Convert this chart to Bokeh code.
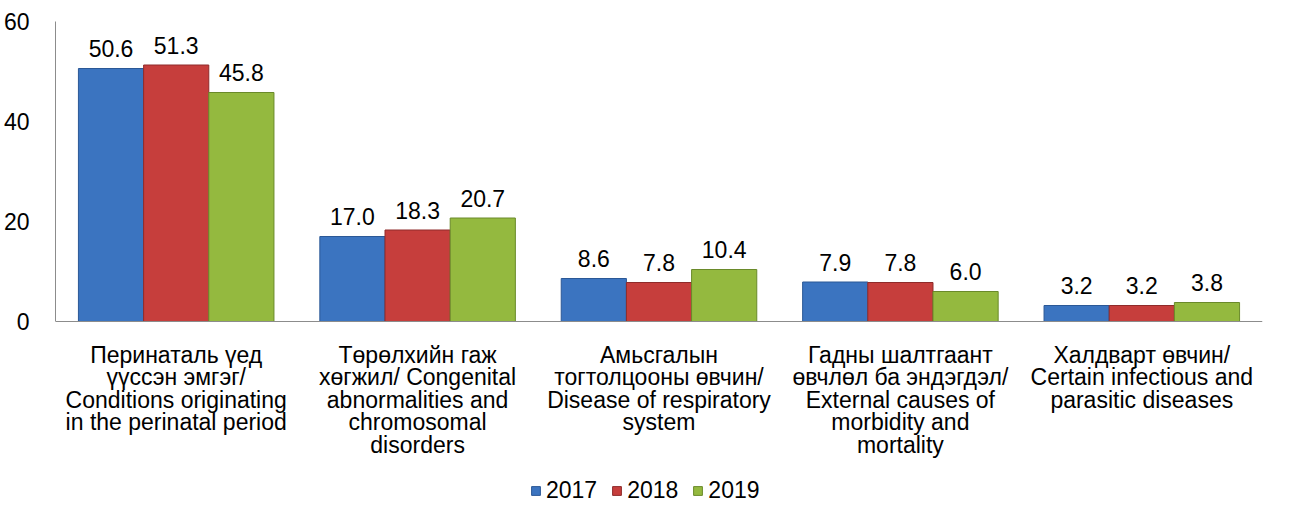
from bokeh.plotting import figure
from bokeh.models import ColumnDataSource, FactorRange, Legend, LegendItem, FixedTicker, Span
from bokeh.transform import dodge
from bokeh.core.properties import value
from bokeh.embed import file_html
from bokeh.resources import INLINE

categories = [
    "Перинаталь үед\nүүссэн эмгэг/\nConditions originating\nin the perinatal period",
    "Төрөлхийн гаж\nхөгжил/ Congenital\nabnormalities and\nchromosomal\ndisorders",
    "Амьсгалын\nтогтолцооны өвчин/\nDisease of respiratory\nsystem",
    "Гадны шалтгаант\nөвчлөл ба эндэгдэл/\nExternal causes of\nmorbidity and\nmortality",
    "Халдварт өвчин/\nCertain infectious and\nparasitic diseases",
]
years = ["2017", "2018", "2019"]
v2017 = [50.6, 17.0, 8.6, 7.9, 3.2]
v2018 = [51.3, 18.3, 7.8, 7.8, 3.2]
v2019 = [45.8, 20.7, 10.4, 6.0, 3.8]
y_ticks = [0, 20, 40, 60]

fills = ["#3B74C0", "#C63E3C", "#94B93F"]
lines = ["#2B5896", "#8F2B2A", "#6A8A2A"]
FONT = "Liberation Sans"
FS = "23px"

src = ColumnDataSource(dict(
    cat=categories,
    v2017=v2017, v2018=v2018, v2019=v2019,
    l2017=[f"{v:.1f}" for v in v2017],
    l2018=[f"{v:.1f}" for v in v2018],
    l2019=[f"{v:.1f}" for v in v2019],
))

p = figure(frame_width=1207, frame_height=495, x_range=FactorRange(*categories, range_padding=0),
           y_range=(-39, 60), output_backend="svg", toolbar_location=None,
           min_border_left=55, min_border_right=10, min_border_top=21, min_border_bottom=0)
p.outline_line_color = None
p.xgrid.grid_line_color = None
p.ygrid.grid_line_color = None
p.xaxis.visible = False

baseline = Span(location=0, dimension="width", line_color="#8C8C8C", line_width=1)
p.add_layout(baseline)

bw = 0.27
offs = [-bw, 0.0, bw]
items = []
for yr, off, fc, lc in zip(years, offs, fills, lines):
    r = p.vbar(x=dodge("cat", off, range=p.x_range), top="v" + yr, width=bw, source=src,
               fill_color=fc, line_color=lc, line_width=1)
    p.text(x=dodge("cat", off, range=p.x_range), y="v" + yr, text="l" + yr, source=src,
           text_align="center", text_baseline="alphabetic", y_offset=-20,
           text_font=value(FONT), text_font_size=FS, text_color="#000000")
    items.append(LegendItem(label=yr, renderers=[r]))

# category labels under the baseline
p.text(x="cat", y=0, text="cat", source=src, text_align="center", text_baseline="top",
       y_offset=20, text_line_height=0.87,
       text_font=value(FONT), text_font_size=FS, text_color="#000000")

p.yaxis.ticker = FixedTicker(ticks=y_ticks)
p.yaxis.bounds = (0, 60)
p.yaxis.major_tick_line_color = None
p.yaxis.minor_tick_line_color = None
p.yaxis.axis_line_color = "#8C8C8C"
p.yaxis.major_label_text_font = FONT
p.yaxis.major_label_text_font_size = FS
p.yaxis.major_label_text_color = "#000000"
p.yaxis.major_label_standoff = 20

legend = Legend(items=items, orientation="horizontal", location=(475, 12),
                glyph_width=11, glyph_height=11, label_text_font=FONT,
                label_text_font_size=FS, label_text_color="#000000",
                spacing=14, label_standoff=5, border_line_color=None,
                background_fill_alpha=0, padding=0, margin=0)
p.add_layout(legend, "center")

open("out.html", "w").write(file_html(p, INLINE))
